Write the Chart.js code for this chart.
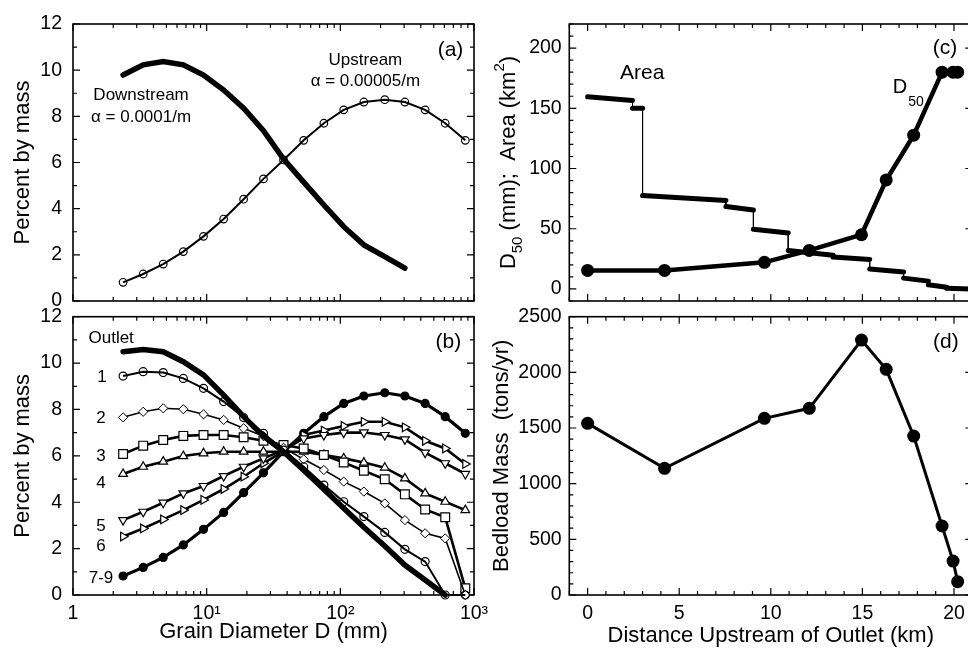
<!DOCTYPE html>
<html lang="en">
<head>
    <meta charset="UTF-8">
    <title>Grain size distributions and bedload</title>
    <script src="https://cdn.jsdelivr.net/npm/chart.js"></script>
    <style>
        html, body {
            margin: 0;
            padding: 0;
            background: #fff;
            width: 968px;
            height: 649px;
            overflow: hidden;
        }
        canvas {
            position: absolute;
            left: 0;
            top: 0;
        }
    </style>
</head>
<body>
    <canvas id="panelA" width="968" height="649"></canvas>
    <canvas id="panelB" width="968" height="649"></canvas>
    <canvas id="panelC" width="980" height="649"></canvas>
    <canvas id="panelD" width="980" height="649"></canvas>

    <script>
        // grain size classes (mm), panels (a) and (b)
        const grainSizes = [2.37, 3.35, 4.73, 6.69, 9.47, 13.4, 18.9, 26.6, 37.6, 53.2, 75.3, 106, 150, 215, 304, 431, 609, 861];
        const decades = [1, 10, 100, 1000];
        const decadeLabels = ['1', '10¹', '10²', '10³'];

        // (a) percent by mass
        const upstream = [0.81, 1.17, 1.60, 2.14, 2.80, 3.55, 4.41, 5.29, 6.11, 6.96, 7.70, 8.28, 8.62, 8.72, 8.62, 8.28, 7.70, 6.96];
        const downstream = [9.79, 10.23, 10.37, 10.23, 9.79, 9.14, 8.35, 7.38, 6.15, 5.15, 4.16, 3.22, 2.43, 1.92, 1.42];

        // (b) percent by mass at each site
        const outlet = [10.49, 10.59, 10.49, 10.06, 9.49, 8.62, 7.69, 6.85, 6.18, 5.38, 4.56, 3.74, 2.92, 2.11, 1.29, 0.65, 0];
        const site1 = [9.44, 9.63, 9.59, 9.34, 8.91, 8.34, 7.65, 6.97, 6.25, 5.53, 4.74, 4.02, 3.38, 2.70, 1.97, 1.44, 0, 0];
        const site2 = [7.66, 7.90, 8.05, 8.01, 7.79, 7.55, 7.19, 6.85, 6.35, 5.85, 5.39, 4.89, 4.46, 3.95, 3.23, 2.66, 2.44, 0];
        const site3 = [6.08, 6.44, 6.68, 6.86, 6.90, 6.90, 6.80, 6.65, 6.47, 6.32, 6.04, 5.71, 5.36, 4.99, 4.34, 3.69, 3.35, 0.29];
        const site4 = [5.22, 5.53, 5.75, 5.99, 6.11, 6.18, 6.18, 6.18, 6.18, 6.18, 6.04, 5.89, 5.71, 5.49, 5.03, 4.38, 4.02, 3.66];
        const site5 = [3.23, 3.59, 3.98, 4.38, 4.70, 5.13, 5.53, 5.89, 6.25, 6.75, 6.90, 7.00, 7.01, 6.90, 6.71, 6.14, 5.68, 5.22];
        const site6 = [2.52, 2.87, 3.26, 3.66, 4.10, 4.57, 5.10, 5.68, 6.20, 6.90, 7.09, 7.29, 7.47, 7.47, 7.23, 6.65, 6.32, 5.65];
        const site79 = [0.82, 1.19, 1.62, 2.16, 2.83, 3.56, 4.41, 5.27, 6.18, 6.97, 7.69, 8.26, 8.58, 8.72, 8.58, 8.26, 7.69, 6.97];

        // (c) and (d) sampling sites, km upstream of outlet
        const siteKm = [0, 4.2, 9.65, 12.1, 14.95, 16.3, 17.8, 19.35, 19.95, 20.2];
        const d50 = [15.4, 15.4, 22.1, 32, 45, 90.5, 127.7, 180, 180, 180];
        const bedload = [1542, 1138, 1587, 1677, 2290, 2027, 1428, 620, 305, 120];

        // (c) drainage area along the channel (steps at tributaries)
        const areaKm = [0, 2.45, 2.45, 3.0, 3.0, 7.55, 7.55, 9.05, 9.05, 10.95, 10.95, 13.4, 13.4, 15.4, 15.4, 17.25, 17.25, 18.6, 18.6, 19.6, 19.6, 20.9];
        const areaKm2 = [159.5, 156.5, 150, 150, 77.5, 73.5, 68.5, 65.5, 49.5, 46.5, 32, 28, 26.5, 24.5, 16.5, 14, 9, 6.5, 3.5, 1.5, 0.5, 0];

        const FONT = '"Liberation Sans", Arial, Helvetica, sans-serif';
        const tickFont = { family: FONT, size: 19.5 };
        const titleFont = { family: FONT, size: 22 };

        Chart.defaults.font.family = FONT;
        Chart.defaults.color = '#000';

        function pts(xs, ys) {
            return ys.map((v, i) => ({ x: xs[i], y: v }));
        }

        function logMinor(lo, hi) {
            const out = [];
            for (let d = lo; d < hi; d *= 10) {
                for (let k = 2; k < 10; k++) out.push(d * k);
            }
            return out;
        }

        function steps(lo, hi, step) {
            const out = [];
            for (let v = lo; v <= hi + 1e-9; v += step) out.push(+v.toFixed(6));
            return out;
        }

        // box around the plot with inward ticks on every side, plus text notes
        const framePlugin = {
            id: 'frame',
            beforeDatasetsDraw(chart, args, opts) {
                const { ctx, chartArea: a } = chart;
                const x = chart.scales.x, y = chart.scales.y;
                ctx.save();
                ctx.strokeStyle = '#000';
                ctx.lineWidth = 1.6;
                ctx.strokeRect(a.left, a.top, a.right - a.left, a.bottom - a.top);
                ctx.lineWidth = 1.2;
                ctx.beginPath();
                const xt = (vals, len) => vals.forEach(v => {
                    const p = x.getPixelForValue(v);
                    ctx.moveTo(p, a.bottom); ctx.lineTo(p, a.bottom - len);
                    ctx.moveTo(p, a.top); ctx.lineTo(p, a.top + len);
                });
                const yt = (vals, len) => vals.forEach(v => {
                    const p = y.getPixelForValue(v);
                    ctx.moveTo(a.left, p); ctx.lineTo(a.left + len, p);
                    ctx.moveTo(a.right, p); ctx.lineTo(a.right - len, p);
                });
                xt(opts.xMajor, 7); xt(opts.xMinor, 4);
                yt(opts.yMajor, 7); yt(opts.yMinor, 4);
                ctx.stroke();
                ctx.restore();
            },
            afterDatasetsDraw(chart, args, opts) {
                const { ctx } = chart;
                const x = chart.scales.x, y = chart.scales.y;
                ctx.save();
                ctx.fillStyle = '#000';
                ctx.textBaseline = 'middle';
                (opts.notes || []).forEach(n => {
                    ctx.font = n.size + 'px ' + FONT;
                    ctx.textAlign = n.align || 'center';
                    ctx.fillText(n.text, x.getPixelForValue(n.x), y.getPixelForValue(n.y));
                });
                const rt = opts.richTitle;
                if (rt) {
                    const a = chart.chartArea;
                    ctx.translate(y.left + rt.offset, (a.top + a.bottom) / 2);
                    ctx.rotate(-Math.PI / 2);
                    ctx.textAlign = 'left';
                    let total = 0;
                    rt.parts.forEach(p => {
                        ctx.font = p.size + 'px ' + FONT;
                        total += ctx.measureText(p.text).width;
                    });
                    let cx = -total / 2;
                    rt.parts.forEach(p => {
                        ctx.font = p.size + 'px ' + FONT;
                        ctx.fillText(p.text, cx, p.shift);
                        cx += ctx.measureText(p.text).width;
                    });
                }
                ctx.restore();
            }
        };

        const noGrid = { display: false, drawTicks: false };
        const noBorder = { display: false };

        function baseOptions(padding, scales, frame) {
            return {
                responsive: false,
                animation: false,
                events: [],
                layout: { padding: padding },
                plugins: {
                    legend: { display: false },
                    tooltip: { enabled: false },
                    frame: frame
                },
                scales: scales
            };
        }

        function line(data, width, extra) {
            return Object.assign({
                data: data,
                showLine: true,
                borderColor: '#000',
                borderWidth: width,
                pointRadius: 0,
                pointBorderColor: '#000',
                pointBackgroundColor: '#fff',
                pointBorderWidth: 1.2,
                clip: false
            }, extra || {});
        }

        const percentAxis = {
            min: 0, max: 12,
            ticks: { stepSize: 2, font: tickFont, padding: 11 },
            grid: noGrid, border: noBorder,
            title: { display: true, text: 'Percent by mass', font: titleFont, padding: { top: 9.8, bottom: 0 } },
            afterFit: s => { s.width = 73; }
        };

        const logFrame = {
            xMajor: decades, xMinor: logMinor(1, 1000),
            yMajor: steps(0, 12, 2), yMinor: steps(0, 12, 1)
        };

        // (a)
        new Chart(document.getElementById('panelA'), {
            type: 'scatter',
            data: {
                datasets: [
                    line(pts(grainSizes, downstream), 5.5, { borderCapStyle: 'round' }),
                    line(pts(grainSizes, upstream), 2, { pointRadius: 3.8, pointBackgroundColor: 'rgba(0,0,0,0)' })
                ]
            },
            plugins: [framePlugin],
            options: baseOptions({ left: 0, top: 24, right: 494, bottom: 348 }, {
                x: {
                    type: 'logarithmic', min: 1, max: 1000,
                    ticks: { display: false }, grid: noGrid, border: noBorder,
                    afterFit: s => { s.height = 0; }
                },
                y: percentAxis
            }, Object.assign({
                notes: [
                    { text: 'Upstream', x: 154, y: 10.44, size: 17 },
                    { text: 'α = 0.00005/m', x: 154, y: 9.53, size: 17 },
                    { text: 'Downstream', x: 3.23, y: 8.93, size: 17 },
                    { text: 'α = 0.0001/m', x: 3.23, y: 7.97, size: 17 },
                    { text: '(a)', x: 667, y: 10.88, size: 21 }
                ]
            }, logFrame))
        });

        // (b)
        new Chart(document.getElementById('panelB'), {
            type: 'scatter',
            data: {
                datasets: [
                    line(pts(grainSizes, outlet), 5.5, { borderCapStyle: 'round' }),
                    line(pts(grainSizes, site1), 2, { pointStyle: 'circle', pointRadius: 4, pointBackgroundColor: 'rgba(0,0,0,0)' }),
                    line(pts(grainSizes, site2), 1.6, { pointStyle: 'rectRot', pointRadius: 4.6, pointBorderWidth: 1 }),
                    line(pts(grainSizes, site3), 2.6, { pointStyle: 'rect', pointRadius: 6.2 }),
                    line(pts(grainSizes, site4), 2.6, { pointStyle: 'triangle', pointRadius: 5 }),
                    line(pts(grainSizes, site5), 2.6, { pointStyle: 'triangle', pointRotation: 180, pointRadius: 5 }),
                    line(pts(grainSizes, site6), 2.6, { pointStyle: 'triangle', pointRotation: 90, pointRadius: 5 }),
                    line(pts(grainSizes, site79), 3.2, { pointStyle: 'circle', pointRadius: 4, pointBackgroundColor: '#000' })
                ]
            },
            plugins: [framePlugin],
            options: baseOptions({ left: 0, top: 316.7, right: 494, bottom: 0 }, {
                x: {
                    type: 'logarithmic', min: 1, max: 1000,
                    afterBuildTicks: s => { s.ticks = decades.map(v => ({ value: v })); },
                    ticks: {
                        font: tickFont, padding: 7, maxRotation: 0, autoSkip: false,
                        callback: (v, i) => decadeLabels[i]
                    },
                    grid: noGrid, border: noBorder,
                    title: { display: true, text: 'Grain Diameter D (mm)', font: titleFont, padding: { top: 0, bottom: 3.8 } },
                    afterFit: s => { s.height = 54; }
                },
                y: percentAxis
            }, Object.assign({
                notes: [
                    { text: 'Outlet', x: 1.93, y: 11.08, size: 17 },
                    { text: '1', x: 1.65, y: 9.40, size: 17 },
                    { text: '2', x: 1.62, y: 7.63, size: 17 },
                    { text: '3', x: 1.62, y: 5.99, size: 17 },
                    { text: '4', x: 1.62, y: 4.83, size: 17 },
                    { text: '5', x: 1.62, y: 2.98, size: 17 },
                    { text: '6', x: 1.62, y: 2.11, size: 17 },
                    { text: '7-9', x: 1.62, y: 0.73, size: 17 },
                    { text: '(b)', x: 644, y: 10.91, size: 21 }
                ]
            }, logFrame))
        });

        const kmFrame = { xMajor: steps(0, 20, 5), xMinor: steps(-1, 21, 1) };

        // (c)
        new Chart(document.getElementById('panelC'), {
            type: 'scatter',
            data: {
                datasets: [
                    line(pts(siteKm, d50), 4.5, { pointRadius: 6.5, pointBackgroundColor: '#000', pointBorderWidth: 0 }),
                    line(pts(areaKm, areaKm2), 5, {
                        borderCapStyle: 'round',
                        segment: {
                            borderWidth: ctx => ctx.p0.parsed.x === ctx.p1.parsed.x ? 1 : 5
                        }
                    })
                ]
            },
            plugins: [framePlugin],
            options: baseOptions({ left: 480, top: 24, right: 7.7, bottom: 348 }, {
                x: {
                    min: -1, max: 21,
                    ticks: { display: false }, grid: noGrid, border: noBorder,
                    afterFit: s => { s.height = 0; }
                },
                y: {
                    min: -10, max: 220,
                    afterBuildTicks: s => { s.ticks = steps(0, 200, 50).map(v => ({ value: v })); },
                    ticks: { font: tickFont, padding: 7.6 },
                    grid: noGrid, border: noBorder,
                    afterFit: s => { s.width = 89.3; }
                }
            }, Object.assign({
                yMajor: steps(0, 200, 50), yMinor: steps(-10, 220, 10),
                notes: [
                    { text: 'Area', x: 2.98, y: 179, size: 21 },
                    { text: 'D', x: 17.05, y: 167.5, size: 20 },
                    { text: '50', x: 17.93, y: 155, size: 14 },
                    { text: '(c)', x: 19.51, y: 199.8, size: 21 }
                ],
                richTitle: {
                    offset: 29,
                    parts: [
                        { text: 'D', size: 22, shift: 0 },
                        { text: '50', size: 15, shift: 9 },
                        { text: ' (mm);  Area (km', size: 22, shift: 0 },
                        { text: '2', size: 15, shift: -9 },
                        { text: ')', size: 22, shift: 0 }
                    ]
                }
            }, kmFrame))
        });

        // (d)
        new Chart(document.getElementById('panelD'), {
            type: 'scatter',
            data: {
                datasets: [
                    line(pts(siteKm, bedload), 3, { pointRadius: 6.5, pointBackgroundColor: '#000', pointBorderWidth: 0 })
                ]
            },
            plugins: [framePlugin],
            options: baseOptions({ left: 480, top: 316.7, right: 7.7, bottom: 0 }, {
                x: {
                    min: -1, max: 21,
                    afterBuildTicks: s => { s.ticks = steps(0, 20, 5).map(v => ({ value: v })); },
                    ticks: { font: tickFont, padding: 7, maxRotation: 0, autoSkip: false },
                    grid: noGrid, border: noBorder,
                    title: { display: true, text: 'Distance Upstream of Outlet (km)', font: titleFont, padding: { top: 0, bottom: 0 } },
                    afterFit: s => { s.height = 54; }
                },
                y: {
                    min: 0, max: 2500,
                    ticks: { stepSize: 500, font: tickFont, padding: 7.6, callback: v => String(v) },
                    grid: noGrid, border: noBorder,
                    title: { display: true, text: 'Bedload Mass  (tons/yr)', font: titleFont, padding: { top: 8.8, bottom: 0 } },
                    afterFit: s => { s.width = 89.3; }
                }
            }, Object.assign({
                yMajor: steps(0, 2500, 500), yMinor: steps(0, 2500, 100),
                notes: [
                    { text: '(d)', x: 19.56, y: 2273, size: 21 }
                ]
            }, kmFrame))
        });
    </script>
</body>
</html>
